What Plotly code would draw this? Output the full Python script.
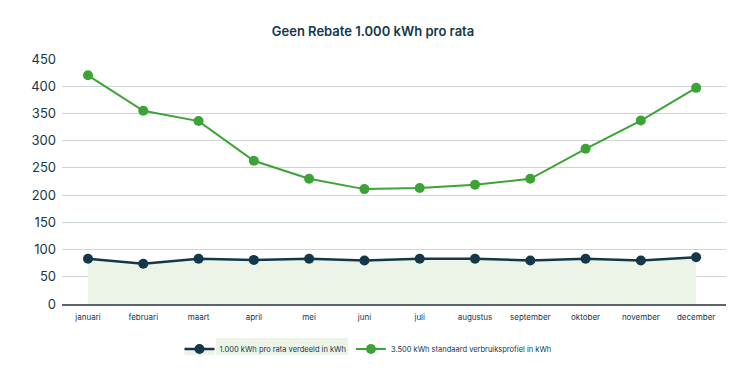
import plotly.graph_objects as go

months = ["januari", "februari", "maart", "april", "mei", "juni", "juli",
          "augustus", "september", "oktober", "november", "december"]
pro_rata = [83, 74, 83, 81, 83, 80, 83, 83, 80, 83, 80, 86]
standaard = [420, 355, 336, 263, 230, 211, 213, 219, 230, 285, 337, 397]
y_ticks = [0, 50, 100, 150, 200, 250, 300, 350, 400, 450]

DARK = "#14374a"
GREEN = "#3da336"
FILL = "#ebf4e7"
FONT = "Inter, Noto Sans, sans-serif"

# page body has an 8px margin, so the figure is sized to fit the 747x374 window
W, H = 739, 366

fig = go.Figure()
fig.add_trace(go.Scatter(
    x=months, y=pro_rata, mode="lines+markers",
    name="1.000 kWh pro rata verdeeld in kWh",
    line=dict(color=DARK, width=2.5), marker=dict(color=DARK, size=10),
    fill="tozeroy", fillcolor=FILL,
))
fig.add_trace(go.Scatter(
    x=months, y=standaard, mode="lines+markers",
    name="3.500 kWh standaard verbruiksprofiel in kWh",
    line=dict(color=GREEN, width=2), marker=dict(color=GREEN, size=10),
))

# light highlight behind the first legend label, as in the original
fig.add_shape(type="rect", xref="paper", yref="paper",
              x0=0.232, x1=0.431, y0=-0.208, y1=-0.139,
              fillcolor=FILL, line=dict(width=0), layer="below")

fig.update_layout(
    width=W, height=H,
    margin=dict(l=54, r=21, t=51, b=70),
    paper_bgcolor="white", plot_bgcolor="white",
    font=dict(family=FONT, color=DARK),
    title=dict(text="Geen Rebate 1.000 kWh pro rata", x=(373 - 8) / W, xref="container",
               xanchor="center", y=1 - 23 / H, yref="container", yanchor="middle",
               font=dict(size=13, color=DARK, weight=600, family=FONT)),
    showlegend=True,
    legend=dict(orientation="h", x=(368 - 8) / W, xref="container", xanchor="center",
                y=(H - 341) / H, yref="container", yanchor="middle",
                font=dict(size=7.5, color=DARK), itemwidth=30, bgcolor="rgba(0,0,0,0)"),
    xaxis=dict(range=[-0.47, 11.54], showgrid=False, showline=True,
               linecolor="#59646c", linewidth=1.5, ticks="",
               tickfont=dict(size=8, color=DARK), ticklabelstandoff=5,
               fixedrange=True),
    yaxis=dict(range=[0, 450], tickvals=y_ticks, showgrid=True, gridcolor="#cdd4d8",
               gridwidth=1, zeroline=False, showline=False, ticks="",
               tickfont=dict(size=13, color=DARK), ticklabelstandoff=5,
               fixedrange=True),
    hovermode=False,
)

fig.write_html("out.html")
